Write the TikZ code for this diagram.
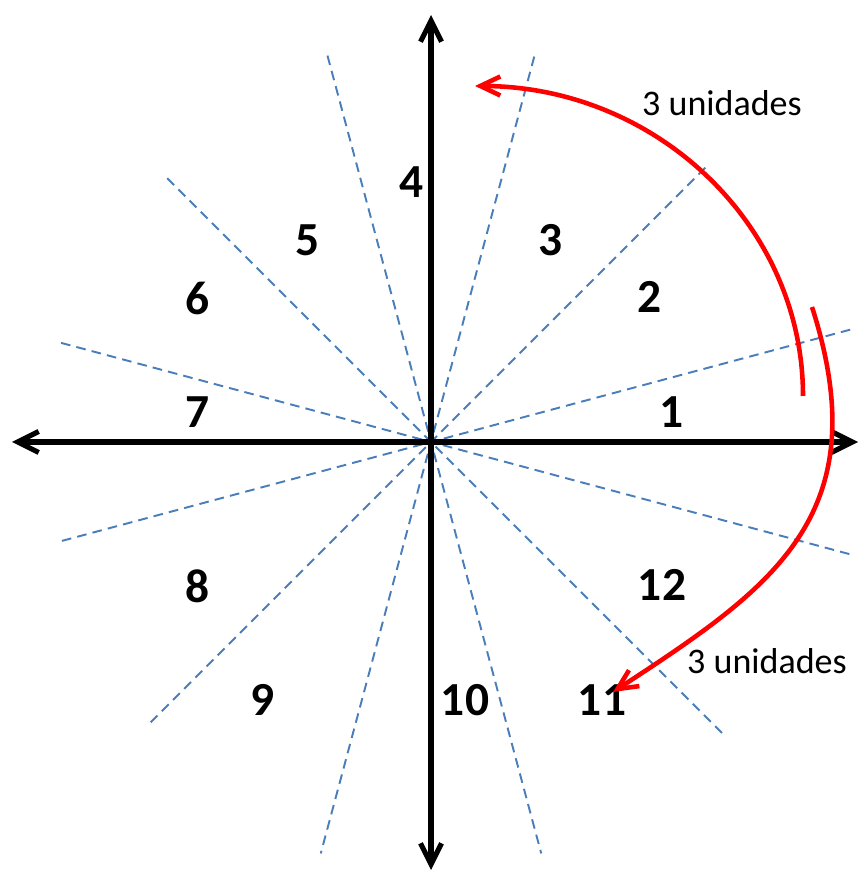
\documentclass[tikz,border=0pt]{standalone}
\usepackage{fontspec}
\setmainfont{Carlito}
\usetikzlibrary{arrows.meta,calc}
\definecolor{AxisBlack}{HTML}{000000}
\definecolor{GuideBlue}{HTML}{4A7EBB}
\definecolor{TurnRed}{HTML}{FF0000}

\begin{document}
\begin{tikzpicture}[
        x=0.02cm, y=0.02cm,
        every node/.style={inner sep=0pt},
        num/.style={font=\fontsize{27}{30}\selectfont\bfseries},
        lbl/.style={font=\fontsize{20.5}{24}\selectfont},
        axis/.style={{Straight Barb[length=0.42cm,width=0.42cm]}-{Straight Barb[length=0.42cm,width=0.42cm]},AxisBlack,line width=2.9pt},
        guide/.style={GuideBlue,line width=1.1pt,dash pattern=on 5.5pt off 3.5pt},
        turn/.style={-{Straight Barb[length=0.4cm,width=0.38cm]},TurnRed,line width=2.6pt}
      ]
        \useasboundingbox (0,0) rectangle (860,872);
        \coordinate (O) at (431,430);
        % sector borders
        \foreach \a/\r/\s in {15/434/386,45/388/397,75/399/426,105/400/426,135/373/413,165/383/438}
          \draw[guide] ([shift={(\a:\r)}]O) -- ([shift={(\a+180:\s)}]O);
        % axes
        \coordinate (W) at (12,430);
        \coordinate (E) at (858,430);
        \coordinate (N) at (431,857);
        \coordinate (S) at (431,2);
        \draw[axis] (W) -- (E);
        \draw[axis] (S) -- (N);
        % sectors
        \node[num] (s1) at (672,460) {1};
        \node[num] (s2) at (650,575) {2};
        \node[num] (s3) at (551,632) {3};
        \node[num] (s4) at (412,690) {4};
        \node[num] (s5) at (308,632) {5};
        \node[num] (s6) at (198,574) {6};
        \node[num] (s7) at (198,460) {7};
        \node[num] (s8) at (198,286) {8};
        \node[num] (s9) at (263,172) {9};
        \node[num] (s10) at (465,172) {10};
        \node[num] (s11) at (602,172) {11};
        \node[num] (s12) at (662,287) {12};
        % turns
        \coordinate (t1a) at (803,476);
        \coordinate (t1b) at (475,786);
        \coordinate (t2a) at (812,565);
        \coordinate (t2b) at (613,180);
        \draw[turn] (t1a) .. controls +(0,171) and +(181,0) .. (t1b);
        \draw[turn] (t2a) .. controls +(67,-209) and +(159,104) .. (t2b);
        \node[lbl] (u1) at (722,769) {3 unidades};
        \node[lbl] (u2) at (767,211) {3 unidades};
      \end{tikzpicture}
\end{document}
